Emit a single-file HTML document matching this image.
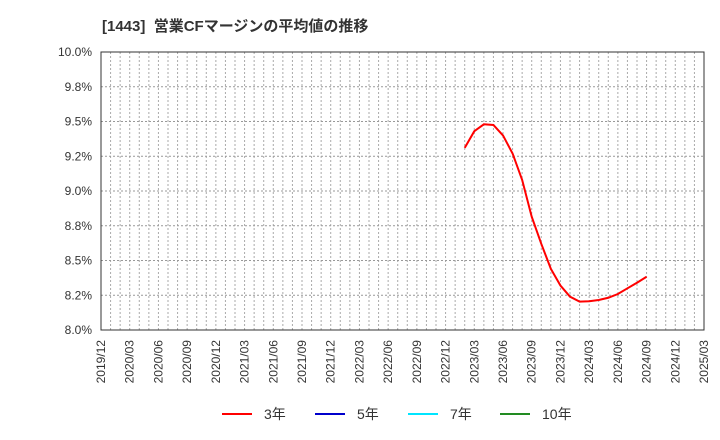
<!DOCTYPE html>
<html><head><meta charset="utf-8"><style>
body{margin:0;background:#fff;}
svg{display:block;font-family:"Liberation Sans","Noto Sans CJK JP",sans-serif;}
</style></head><body>
<svg id="c" width="720" height="440">
<text x="102" y="31" font-size="15" font-weight="bold" fill="#333" xml:space="preserve">[1443]  営業CFマージンの平均値の推移</text>
<g id="grid"></g><g id="axes"></g><g id="series"></g>
<g font-size="14" fill="#333">
<line x1="222" y1="414" x2="252" y2="414" stroke="#ff0000" stroke-width="2"/><text x="264" y="419">3年</text>
<line x1="315" y1="414" x2="345" y2="414" stroke="#0000cc" stroke-width="2"/><text x="357" y="419">5年</text>
<line x1="408" y1="414" x2="438" y2="414" stroke="#00e5ff" stroke-width="2"/><text x="450" y="419">7年</text>
<line x1="500" y1="414" x2="530" y2="414" stroke="#228b22" stroke-width="2"/><text x="542" y="419">10年</text>
</g>
</svg>
<script>
const yTicks=[8.0,8.25,8.5,8.75,9.0,9.25,9.5,9.75,10.0];
const yTickLabels=["8.0%","8.2%","8.5%","8.8%","9.0%","9.2%","9.5%","9.8%","10.0%"];
const xTickLabels=["2019/12","2020/03","2020/06","2020/09","2020/12","2021/03","2021/06","2021/09","2021/12","2022/03","2022/06","2022/09","2022/12","2023/03","2023/06","2023/09","2023/12","2024/03","2024/06","2024/09","2024/12","2025/03"];
const startMonth=38; // 2023/02 offset from 2019/12
const values3y=[9.31,9.43,9.48,9.475,9.40,9.27,9.08,8.815,8.62,8.44,8.32,8.24,8.204,8.207,8.216,8.232,8.259,8.30,8.34,8.383];
const L=101,R=704,T=52,B=330,months=63;
const xs=m=>L+(R-L)*m/months;
const ys=v=>B-(v-8)/2*(B-T);
const NS="http://www.w3.org/2000/svg";
function mk(t,a,p){const e=document.createElementNS(NS,t);for(const k in a)e.setAttribute(k,a[k]);p.appendChild(e);return e;}
const g=document.getElementById('grid'),ax=document.getElementById('axes'),s=document.getElementById('series');
for(let m=1;m<months;m++){const l=mk('line',{x1:xs(m),x2:xs(m),y1:T,y2:B,stroke:'#aaa','stroke-dasharray':'2,2'},g);

}
yTicks.forEach((v,i)=>{const l=mk('line',{x1:L,x2:R,y1:ys(v),y2:ys(v),stroke:'#999','stroke-dasharray':'2,2'},g);


const t=mk('text',{x:L-9,y:ys(v)+4,'text-anchor':'end','font-size':'12',fill:'#333'},ax);t.textContent=yTickLabels[i];

});
xTickLabels.forEach((lab,i)=>{const x=xs(i*3);const t=mk('text',{transform:`translate(${x+4},340) rotate(-90)`,'text-anchor':'end','font-size':'12',fill:'#333'},ax);t.textContent=lab;

});
const fr=mk('rect',{x:L,y:T,width:R-L,height:B-T,fill:'none',stroke:'#333','stroke-width':1},ax);


const pts=values3y.map((v,i)=>xs(startMonth+i)+','+ys(v)).join(' ');
const pl=mk('polyline',{points:pts,fill:'none',stroke:'#ff0000','stroke-width':2},s);


</script>
</body></html>
